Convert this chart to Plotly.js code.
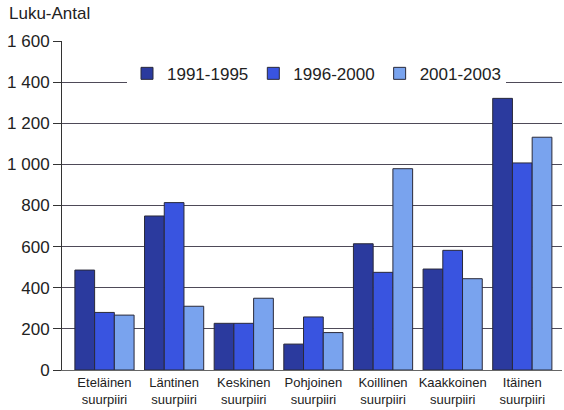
<!DOCTYPE html>
<html>
<head>
<meta charset="utf-8">
<script src="https://cdn.plot.ly/plotly-3.0.1.min.js"></script>
<style>html,body{margin:0;padding:0;background:#fff;}#chart{width:564px;height:410px;}</style>
</head>
<body>
<div id="chart"></div>
<script>
var categories = ["Eteläinen<br>suurpiiri","Läntinen<br>suurpiiri","Keskinen<br>suurpiiri","Pohjoinen<br>suurpiiri","Koillinen<br>suurpiiri","Kaakkoinen<br>suurpiiri","Itäinen<br>suurpiiri"];
var seriesNames = ["1991-1995","1996-2000","2001-2003"];
var v1991 = [486, 749, 227, 126, 614, 491, 1321];
var v1996 = [280, 814, 227, 258, 475, 582, 1007];
var v2001 = [267, 310, 349, 182, 979, 444, 1132];
var yTickVals = [0,200,400,600,800,1000,1200,1400,1600];
var yTickText = ["0","200","400","600","800","1 000","1 200","1 400","1 600"];
var yTitle = "Luku-Antal";

var colors = ["#2b3a9e","#3954e0","#79a3ee"];
var vals = [v1991, v1996, v2001];
var traces = vals.map(function(v,i){
  return {type:"bar", x:categories, y:v, name:seriesNames[i],
    marker:{color:colors[i], line:{color:"#2a2a3a", width:1}}};
});
var font = "Liberation Sans, Arial, sans-serif";
var layout = {
  width:564, height:410,
  margin:{l:62, r:2, t:41, b:40},
  paper_bgcolor:"#fff", plot_bgcolor:"#fff",
  barmode:"group", bargap:0.15, bargroupgap:0,
  font:{family:font, color:"#222"},
  showlegend:true,
  legend:{orientation:"h", x:0.13, xanchor:"left", y:0.955, yanchor:"top",
    bgcolor:"#fff", font:{size:17, family:font, color:"#222"}, itemwidth:30, tracegroupgap:0},
  xaxis:{type:"category", range:[-0.61,6.57], showgrid:false, showline:true, linecolor:"#666", linewidth:1,
    ticks:"", tickfont:{size:13, family:font, color:"#222"}, fixedrange:true},
  yaxis:{range:[0,1600], tickvals:yTickVals, ticktext:yTickText, showgrid:true, gridcolor:"#4e4a58", gridwidth:1,
    showline:true, linecolor:"#333", linewidth:1, ticks:"outside", ticklen:8, tickcolor:"#333",
    tickfont:{size:17, family:font, color:"#222"}, zeroline:false},
  annotations:[{text:yTitle, xref:"paper", yref:"paper", x:-0.11, y:1.05, xanchor:"left", yanchor:"bottom",
    showarrow:false, font:{size:17, family:font, color:"#222"}}]
};
Plotly.newPlot("chart", traces, layout, {displayModeBar:false, staticPlot:true});
</script>
</body>
</html>
